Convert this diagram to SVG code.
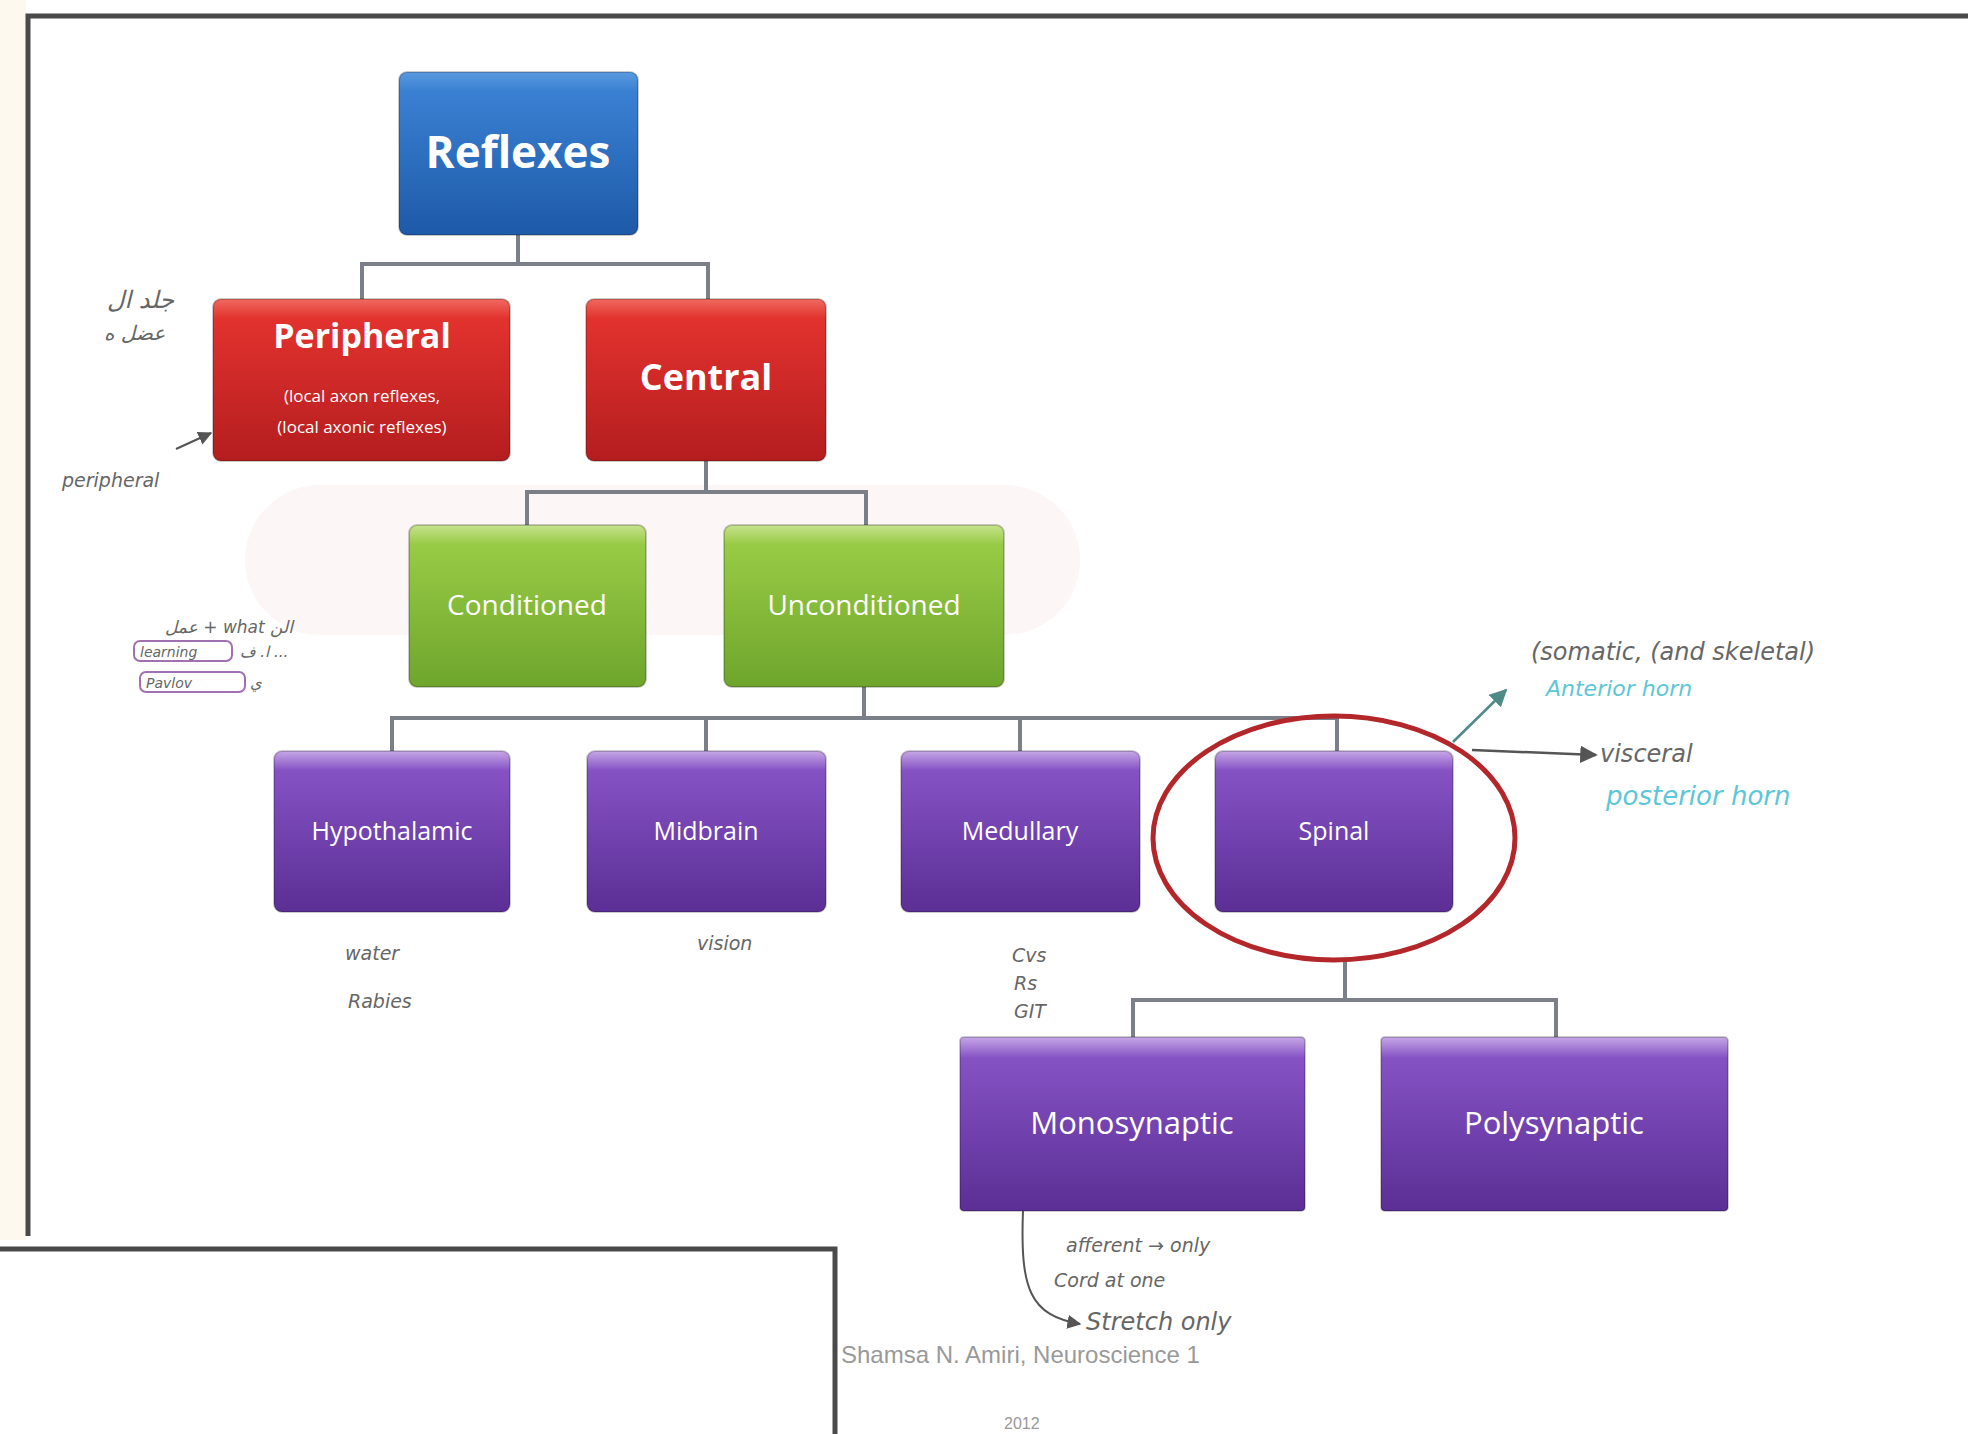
<svg xmlns="http://www.w3.org/2000/svg" width="1968" height="1434" viewBox="0 0 1968 1434">
<defs>
<linearGradient id="gBlue" x1="0" y1="0" x2="0" y2="1"><stop offset="0" stop-color="#5a9be0"/><stop offset="0.12" stop-color="#3a80d2"/><stop offset="1" stop-color="#1d5aa8"/></linearGradient>
<linearGradient id="gRed" x1="0" y1="0" x2="0" y2="1"><stop offset="0" stop-color="#f06a5e"/><stop offset="0.12" stop-color="#e2322e"/><stop offset="1" stop-color="#b41d1f"/></linearGradient>
<linearGradient id="gGreen" x1="0" y1="0" x2="0" y2="1"><stop offset="0" stop-color="#c6e38e"/><stop offset="0.12" stop-color="#98cb45"/><stop offset="1" stop-color="#6ea52c"/></linearGradient>
<linearGradient id="gPurple" x1="0" y1="0" x2="0" y2="1"><stop offset="0" stop-color="#c6a8e6"/><stop offset="0.12" stop-color="#8552c4"/><stop offset="1" stop-color="#5b2f95"/></linearGradient>
<marker id="ah" viewBox="0 0 10 10" refX="9" refY="5" markerWidth="7" markerHeight="7" orient="auto"><path d="M0,0 L10,5 L0,10 z" fill="#555"/></marker>
<marker id="ahT" viewBox="0 0 10 10" refX="9" refY="5" markerWidth="7" markerHeight="7" orient="auto"><path d="M0,0 L10,5 L0,10 z" fill="#4e8a86"/></marker>
</defs>
<style>
.box{stroke:#00000033;stroke-width:2}
.lbl{font-family:"Open Sans","Liberation Sans",sans-serif;fill:#ffffff;text-anchor:middle}
.conn{fill:none;stroke:#7b8088;stroke-width:4}
.hand{font-family:"DejaVu Sans","Liberation Sans",sans-serif;fill:#666;font-style:italic}
.cyan{font-family:"DejaVu Sans","Liberation Sans",sans-serif;fill:#5cc7d6;font-style:italic}
.frame{fill:none;stroke:#4a4a4a;stroke-width:5}
</style>
<rect x="0" y="0" width="1968" height="1434" fill="#ffffff"/>
<rect x="0" y="0" width="26" height="1240" fill="#fdf9ee"/>
<rect x="245" y="485" width="835" height="150" rx="75" fill="#fdf6f6"/>
<g id="frames">
<path class="frame" d="M28,1236 V16 H1968"/>
<path class="frame" d="M0,1249 H835 V1434" stroke="#222"/>
</g>
<g id="connectors">
<path class="conn" d="M518,235 V264 M362,299 V264 H708 V299"/>
<path class="conn" d="M706,461 V492 M527,525 V492 H866 V525"/>
<path class="conn" d="M864,687 V718 M392,751 V718 H1337 V751 M706,718 V751 M1020,718 V751"/>
<path class="conn" d="M1345,960 V1000 M1133,1037 V1000 H1556 V1037"/>
</g>
<g id="node-reflexes"><rect class="box" x="399" y="72" width="239" height="163" rx="8" fill="url(#gBlue)"/><text class="lbl" x="518" y="168" font-size="44" font-weight="bold">Reflexes</text></g>
<g id="node-peripheral"><rect class="box" x="213" y="299" width="297" height="162" rx="8" fill="url(#gRed)"/><text class="lbl" x="362" y="348" font-size="34" font-weight="bold">Peripheral</text><text class="lbl" x="362" y="402" font-size="17">(local axon reflexes,</text><text class="lbl" x="362" y="433" font-size="17">(local axonic reflexes)</text></g>
<g id="node-central"><rect class="box" x="586" y="299" width="240" height="162" rx="8" fill="url(#gRed)"/><text class="lbl" x="706" y="390" font-size="36" font-weight="bold">Central</text></g>
<g id="node-conditioned"><rect class="box" x="409" y="525" width="237" height="162" rx="8" fill="url(#gGreen)"/><text class="lbl" x="527" y="615" font-size="28">Conditioned</text></g>
<g id="node-unconditioned"><rect class="box" x="724" y="525" width="280" height="162" rx="8" fill="url(#gGreen)"/><text class="lbl" x="864" y="615" font-size="28">Unconditioned</text></g>
<g id="node-hypothalamic"><rect class="box" x="274" y="751" width="236" height="161" rx="8" fill="url(#gPurple)"/><text class="lbl" x="392" y="840" font-size="25">Hypothalamic</text></g>
<g id="node-midbrain"><rect class="box" x="587" y="751" width="239" height="161" rx="8" fill="url(#gPurple)"/><text class="lbl" x="706" y="840" font-size="25">Midbrain</text></g>
<g id="node-medullary"><rect class="box" x="901" y="751" width="239" height="161" rx="8" fill="url(#gPurple)"/><text class="lbl" x="1020" y="840" font-size="25">Medullary</text></g>
<g id="node-spinal"><rect class="box" x="1215" y="751" width="238" height="161" rx="8" fill="url(#gPurple)"/><text class="lbl" x="1334" y="840" font-size="25">Spinal</text></g>
<g id="node-monosynaptic"><rect class="box" x="960" y="1037" width="345" height="174" rx="4" fill="url(#gPurple)"/><text class="lbl" x="1132" y="1134" font-size="31">Monosynaptic</text></g>
<g id="node-polysynaptic"><rect class="box" x="1381" y="1037" width="347" height="174" rx="4" fill="url(#gPurple)"/><text class="lbl" x="1554" y="1134" font-size="31">Polysynaptic</text></g>
<g id="highlight">
<ellipse cx="1334" cy="838" rx="181" ry="122" fill="none" stroke="#b3262a" stroke-width="5"/>
</g>
<g id="annotations">
<text class="hand" x="107" y="308" font-size="24">جلد ال</text>
<text class="hand" x="104" y="340" font-size="20">عضل  ه</text>
<path d="M176,449 L211,433" stroke="#555" stroke-width="2" fill="none" marker-end="url(#ah)"/>
<text class="hand" x="62" y="487" font-size="19">peripheral</text>
<text class="hand" x="165" y="633" font-size="17">عمل + what  الن</text>
<rect x="134" y="641" width="98" height="20" rx="6" fill="none" stroke="#a070b0" stroke-width="2"/>
<text class="hand" x="140" y="657" font-size="14">learning</text>
<text class="hand" x="240" y="657" font-size="15">ا. ف  ...</text>
<rect x="140" y="672" width="105" height="20" rx="6" fill="none" stroke="#a070b0" stroke-width="2"/>
<text class="hand" x="146" y="688" font-size="14">Pavlov</text>
<text class="hand" x="250" y="688" font-size="15">ي</text>
<text class="hand" x="345" y="960" font-size="19">water</text>
<text class="hand" x="348" y="1008" font-size="19">Rabies</text>
<text class="hand" x="697" y="950" font-size="19">vision</text>
<text class="hand" x="1012" y="962" font-size="19">Cvs</text>
<text class="hand" x="1014" y="990" font-size="19">Rs</text>
<text class="hand" x="1014" y="1018" font-size="19">GIT</text>
<path d="M1453,742 L1506,690" stroke="#4e8a86" stroke-width="2.5" fill="none" marker-end="url(#ahT)"/>
<text class="hand" x="1531" y="660" font-size="24">(somatic, (and skeletal)</text>
<text class="cyan" x="1546" y="696" font-size="22">Anterior horn</text>
<path d="M1472,750 L1596,755" stroke="#555" stroke-width="2.5" fill="none" marker-end="url(#ah)"/>
<text class="hand" x="1600" y="762" font-size="24">visceral</text>
<text class="cyan" x="1606" y="805" font-size="26">posterior horn</text>
<path d="M1023,1211 C1020,1290 1030,1315 1080,1324" stroke="#555" stroke-width="2" fill="none" marker-end="url(#ah)"/>
<text class="hand" x="1066" y="1252" font-size="19">afferent → only</text>
<text class="hand" x="1054" y="1287" font-size="19">Cord  at  one</text>
<text class="hand" x="1086" y="1330" font-size="24">Stretch only</text>
<text font-family="Liberation Sans, sans-serif" font-size="24" fill="#999" x="841" y="1363">Shamsa N. Amiri, Neuroscience 1</text>
<text font-family="Liberation Sans, sans-serif" font-size="16" fill="#999" x="1004" y="1429">2012</text>
</g>
</svg>
